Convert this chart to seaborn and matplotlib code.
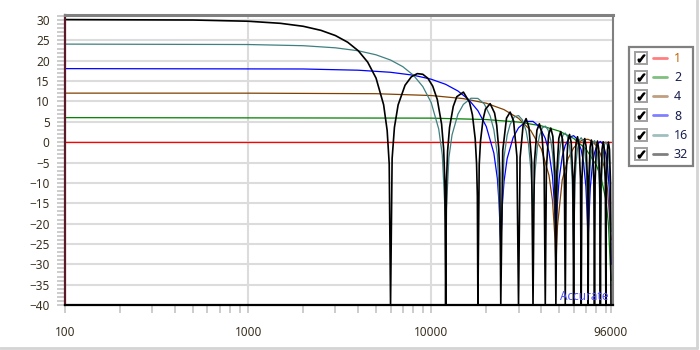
import matplotlib
matplotlib.use("Agg")
import matplotlib.pyplot as plt
from matplotlib.lines import Line2D
from matplotlib.legend_handler import HandlerTuple
from matplotlib.ticker import FixedLocator, MultipleLocator, NullFormatter
import seaborn as sns
import pandas as pd

# moving-sum filters, N taps, response (dB vs Hz)
taps = ["1", "2", "4", "8", "16", "32"]
colors = ["#ff0000", "#008000", "#804000", "#0000ff", "#408080", "#000000"]

freq_1 = [100, 96000]
db_1 = [0, 0]

freq_2 = [100, 10000, 20000, 30000, 40000, 50000, 60000, 70000, 80000, 85000, 90000, 93000, 95000, 96000]
db_2 = [6.02, 5.90, 5.55, 4.93, 4.01, 2.72, 0.92, -1.66, -5.72, -8.92, -14.15, -20.2, -29.7, -34]

freq_4 = [100, 1000, 5000, 10000, 15000, 20000, 25000, 30000, 35000, 40000, 44000, 46000, 47500, 48000,
          48500, 49000, 52000, 56000, 60000, 64000, 68000, 72000, 76000, 80000, 84000, 88000, 92000,
          94000, 96000]
db_4 = [12.04, 12.03, 11.90, 11.45, 10.69, 9.56, 7.99, 5.85, 2.85, -1.71, -8.13, -14.38, -24, -31,
        -25, -20.5, -9.26, -4.01, -1.41, 0.0, 0.65, 0.69, 0.17, -0.95, -2.84, -5.95, -11.72,
        -17.7, -24]

freq_8 = [100, 2000, 4000, 6000, 8000, 10000, 12000, 14000, 16000, 18000, 20000, 22000, 23000, 23500, 24000,
          24500, 25000, 26000, 28000, 30000, 33000, 36000, 39000, 42000, 44000, 46000, 47000, 48000,
          49000, 50000, 52000, 54000, 57000, 60000, 63000, 66000, 68000, 70000, 71000, 72000,
          73000, 74000, 76000, 78000, 81000, 84000, 87000, 90000, 92000, 94000, 95000, 96000]
db_8 = [18.06, 17.97, 17.67, 17.16, 16.44, 15.46, 14.20, 12.57, 10.49, 7.73, 3.84, -2.68, -9.0, -15.2, -26,
        -15.2, -9.7, -4.05, 1.07, 3.52, 5.09, 5.10, 3.81, 0.94, -2.40, -8.44, -14.5, -22,
        -14.7, -9.0, -3.54, -0.77, 1.22, 1.60, 0.65, -1.92, -5.08, -10.93, -16.9, -24,
        -17.0, -11.16, -5.55, -2.63, -0.42, 0.17, -0.59, -2.97, -6.0, -11.7, -17.7, -30]

freq_16 = [100, 1000, 2000, 3000, 4000, 5000, 6000, 7000, 8000, 9000, 10000, 11000, 11500, 12000,
           12500, 13000, 14000, 15000, 16500, 18000, 19500, 21000, 22000, 23000, 24000,
           25000, 26000, 27000, 28500, 30000, 31500, 33000, 34000, 35000, 36000,
           37000, 38000, 39000, 40500, 42000, 43500, 45000, 46000, 47000, 48000,
           49000, 50000, 51000, 52500, 54000, 55500, 57000, 58000, 59000, 60000,
           61000, 62000, 63000, 64500, 66000, 67500, 69000, 70000, 71000, 72000,
           73000, 74000, 75000, 76500, 78000, 79500, 81000, 82000, 83000, 84000,
           85000, 86000, 87000, 88500, 90000, 91500, 93000, 94000, 95000, 96000]
db_16 = [24.08, 23.98, 23.69, 23.17, 22.44, 21.45, 20.17, 18.54, 16.44, 13.66, 9.74, 3.20, -3.13, -20,
         -3.84, 1.77, 6.86, 9.28, 10.79, 10.74, 9.38, 6.44, 3.04, -3.05, -24,
         -3.73, 1.67, 4.37, 6.26, 6.53, 5.46, 2.77, -0.47, -6.42, -17,
         -6.84, -1.33, 1.49, 3.53, 3.95, 3.01, 0.45, -2.72, -8.59, -22,
         -8.87, -3.28, -0.40, 1.73, 2.24, 1.38, -1.11, -4.22, -10.04, -26,
         -10.23, -4.60, -1.68, 0.52, 1.09, 0.30, -2.13, -5.21, -10.99, -20,
         -11.11, -5.44, -2.49, -0.24, 0.38, -0.37, -2.75, -5.79, -11.54, -24,
         -11.6, -5.91, -2.92, -0.62, 0.04, -0.66, -3.0, -6.0, -11.7, -22]

freq_32 = [100, 500, 1000, 1500, 2000, 2500, 3000, 3500, 4000, 4500, 5000, 5500, 5750, 5900, 6000,
           6120, 6300, 6600, 7200, 7800, 8400, 9000, 9600, 10200, 10800, 11400, 11700, 11880, 12000,
           12120, 12300, 12600, 13200, 13800, 15000, 16200, 16800, 17400, 17700, 17880, 18000,
           18300, 18600, 19200, 19800, 21000, 22200, 22800, 23400, 23700, 24000,
           24600, 25800, 27000, 28200, 29400, 30000,
           30600, 31800, 33000, 34200, 35400, 36000,
           36600, 37800, 39000, 40200, 41400, 42000,
           42600, 43800, 45000, 46200, 47400, 48000,
           48600, 49800, 51000, 52200, 53400, 54000,
           54600, 55800, 57000, 58200, 59400, 60000,
           60600, 61800, 63000, 64200, 65400, 66000,
           66600, 67800, 69000, 70200, 71400, 72000,
           72600, 73800, 75000, 76200, 77400, 78000,
           78600, 79800, 81000, 82200, 83400, 84000,
           84600, 85800, 87000, 88200, 89400, 90000,
           90600, 91800, 93000, 94200, 95400, 96000]
db_32 = [30.10, 30.00, 29.70, 29.19, 28.46, 27.46, 26.18, 24.54, 22.44, 19.66, 15.73, 9.18, 2.85, -5.31, -40,
         -4.04, 3.64, 9.15, 13.98, 16.07, 16.83, 16.67, 15.67, 13.75, 10.48, 4.44, -1.70, -9.76, -40,
         -9.93, -2.13, 3.58, 8.76, 11.16, 12.29, 9.79, 6.71, 0.83, -5.23, -13.24, -40,
         -5.51, 0.27, 5.58, 8.10, 9.45, 7.15, 4.15, -1.65, -7.66, -40,
         -2.06, 5.91, 7.38, 5.19, -3.51, -40,
         -3.83, 4.23, 5.78, 3.66, -4.96, -40,
         -5.22, 2.90, 4.50, 2.44, -6.14, -40,
         -6.35, 1.81, 3.46, 1.43, -7.10, -40,
         -7.27, 0.92, 2.60, 0.61, -7.89, -40,
         -8.03, 0.19, 1.90, -0.06, -8.54, -40,
         -8.65, -0.40, 1.33, -0.61, -9.06, -40,
         -9.15, -0.88, 0.88, -1.04, -9.47, -40,
         -9.54, -1.25, 0.52, -1.37, -9.79, -40,
         -9.84, -1.53, 0.27, -1.62, -10.01, -40,
         -10.05, -1.72, 0.09, -1.77, -10.15, -40,
         -10.16, -1.81, 0.01, -1.83, -10.20, -40]

x_labels = ["100", "1000", "10000", "96000"]
x_major = [100, 1000, 10000, 96000]
grid_x = [1000, 10000]

series = [(freq_1, db_1), (freq_2, db_2), (freq_4, db_4), (freq_8, db_8), (freq_16, db_16), (freq_32, db_32)]
df = pd.concat([pd.DataFrame({"freq": f, "db": d, "taps": t}) for t, (f, d) in zip(taps, series)],
               ignore_index=True)

sns.set_style("white")
plt.rcParams["font.family"] = ["Noto Sans", "DejaVu Sans"]

fig = plt.figure(figsize=(7, 3.5), dpi=100)
ax = fig.add_axes([65 / 700, 45 / 350, 548 / 700, 290 / 350])

sns.lineplot(data=df, x="freq", y="db", hue="taps", hue_order=taps, palette=colors,
             estimator=None, legend=False, ax=ax, linewidth=0.9)
for ln, t in zip(ax.lines, taps):
    if t == "32":
        ln.set_linewidth(1.2)

ax.set_xscale("log")
ax.set_xlim(100, 98450)
ax.set_ylim(-40, 31.23)
ax.set_xlabel("")
ax.set_ylabel("")

ax.xaxis.set_major_locator(FixedLocator(x_major))
ax.set_xticklabels(x_labels)
minors = [m * d for d in (100, 1000, 10000) for m in range(2, 10)]
ax.xaxis.set_minor_locator(FixedLocator(minors))
ax.xaxis.set_minor_formatter(NullFormatter())
ax.yaxis.set_major_locator(MultipleLocator(5))
ax.yaxis.set_minor_locator(MultipleLocator(1))

ax.grid(True, which="major", axis="y", color="#dcdcdc", lw=1.5)
for gx in grid_x:
    ax.axvline(gx, color="#dcdcdc", lw=1.5, zorder=0)
ax.set_axisbelow(True)

ax.tick_params(axis="both", which="both", direction="out", color="#c4c4c4", width=1.2, length=6,
               labelsize=8.5, labelcolor="#3a3020", bottom=True, left=True, top=False, right=False)
ax.tick_params(axis="y", which="both", pad=5)
ax.tick_params(axis="x", which="both", pad=9)

ax.spines["left"].set_color("#5a1a2a")
ax.spines["left"].set_linewidth(1.6)
ax.spines["bottom"].set_color("black")
ax.spines["bottom"].set_linewidth(1.6)
ax.spines["top"].set_color("#808080")
ax.spines["top"].set_linewidth(2.2)
ax.spines["right"].set_color("#808080")
ax.spines["right"].set_linewidth(1.5)

ax.text(0.992, 0.008, "Accurate", transform=ax.transAxes, ha="right", va="bottom",
        color="#5050ff", fontsize=8.5)


class Overlay(tuple):
    pass


handles = []
for t, c in zip(taps, colors):
    box = Line2D([], [], ls="none", marker="s", ms=8.5, mfc="white", mec="#a0a0a0", mew=1.4)
    chk = Line2D([], [], ls="none", marker=r"$\checkmark$", ms=5, color="black")
    line = Line2D([], [], color=c, alpha=0.5, lw=2)
    handles.append((Overlay((box, chk)), line))

leg = fig.legend(handles, taps, loc="upper left", bbox_to_anchor=(629 / 700, 1 - 47 / 350),
                 handler_map={Overlay: HandlerTuple(ndivide=1), tuple: HandlerTuple(ndivide=None, pad=0.4)},
                 handlelength=2.6, handletextpad=0.6, borderpad=0.4, labelspacing=0.5,
                 fontsize=9, frameon=True, fancybox=False, framealpha=1, borderaxespad=0)
leg.get_frame().set_edgecolor("#808080")
leg.get_frame().set_linewidth(1.6)
for i, txt in enumerate(leg.get_texts()):
    txt.set_color("#c06000" if i == 0 else "#1a2050")

fig.add_artist(Line2D([0.996, 0.996], [0.005, 1], transform=fig.transFigure, color="#d4d4d4", lw=2))
fig.add_artist(Line2D([0, 0.996], [0.005, 0.005], transform=fig.transFigure, color="#d4d4d4", lw=2))

fig.savefig("out.png", dpi=100)
